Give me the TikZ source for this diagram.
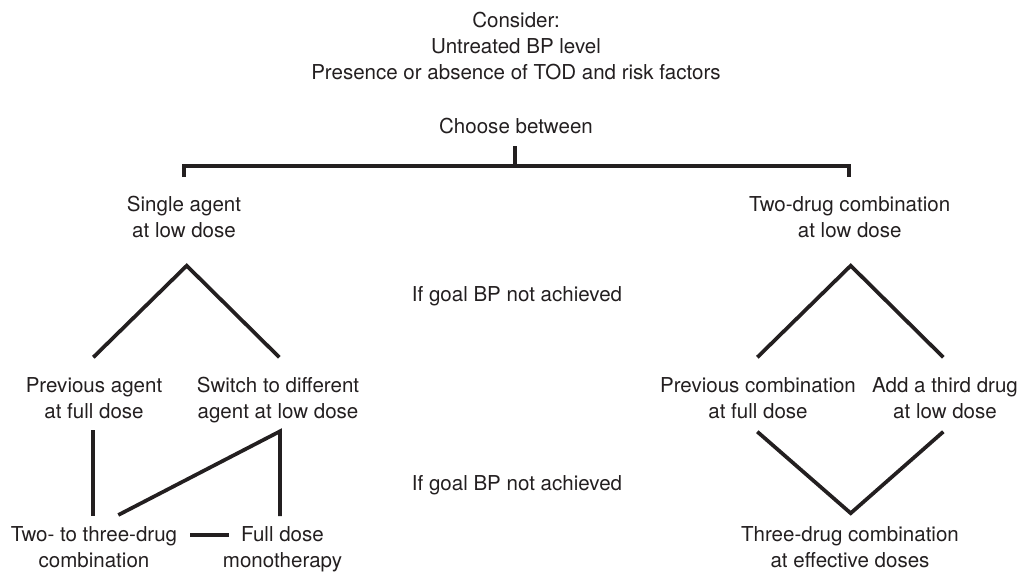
\documentclass[tikz,border=0pt]{standalone}
\usepackage{fontspec}
\setmainfont{TeX Gyre Heros}
\usepackage{tikz}
\usetikzlibrary{calc}
\definecolor{myink}{RGB}{35,31,32}
\tikzstyle{label} = [inner sep=0pt, align=center, anchor=base, text=myink, font=\fontsize{15.4}{19.5}\selectfont]
\tikzstyle{link} = [line width=2.8pt, myink, line join=miter]

\begin{document}
\begin{tikzpicture}[x=0.75pt,y=-0.75pt]
	\useasboundingbox (0,0) rectangle (1020,571);
	\node (consider)[label] at (516,79.3) {Consider:\\Untreated BP level\\Presence or absence of TOD and risk factors};
	\node (choose)[label] at (516,133.3) {Choose between};
	\node (single)[label] at (184,237.7) {Single agent\\at low dose};
	\node (twodrug)[label] at (849.7,237.7) {Two-drug combination\\at low dose};
	\node (goala)[label] at (517,301.7) {If goal BP not achieved};
	\node (prevagent)[label] at (94,418.3) {Previous agent\\at full dose};
	\node (switch)[label] at (278,418.3) {Switch to different\\agent at low dose};
	\node (prevcomb)[label] at (758,418.3) {Previous combination\\at full dose};
	\node (third)[label] at (945,418.3) {Add a third drug\\at low dose};
	\node (goalb)[label] at (517,490) {If goal BP not achieved};
	\node (twothree)[label] at (94,567.7) {Two- to three-drug\\combination};
	\node (fullmono)[label] at (282.5,567.7) {Full dose\\monotherapy};
	\node (threedrug)[label] at (850,567.7) {Three-drug combination\\at effective doses};
	\coordinate (split) at ($(choose.base)+(-1,32.7)$);
	\draw [link] ($(choose.base)+(-1,12.7)$) -- (split);
	\draw [link] ($(single.base)+(0,-60.7)$) |- (split) -| ($(twodrug.base)+(-0.7,-60.7)$);
	\draw [link] ($(prevagent.base)+(-0.7,-61)$) -- ($(single.base)+(2.7,28)$) -- ($(switch.base)+(1.3,-61)$);
	\draw [link] ($(prevcomb.base)+(-0.7,-61)$) -- ($(twodrug.base)+(1,28)$) -- ($(third.base)+(-1.7,-61)$);
	\draw [link] ($(prevagent.base)+(-1.3,11.7)$) -- ($(twothree.base)+(-1.3,-51.7)$);
	\draw [link] ($(twothree.base)+(24.3,-52.7)$) -- ($(switch.base)+(2,13)$) -- ($(fullmono.base)+(-2.5,-51.7)$);
	\draw [link] ($(twothree.base)+(96,-32.7)$) -- ($(fullmono.base)+(-53.2,-32.7)$);
	\draw [link] ($(prevcomb.base)+(-0.7,13.4)$) -- ($(threedrug.base)+(0.7,-54.5)$) -- ($(third.base)+(-1.7,13.4)$);
\end{tikzpicture}
\end{document}
